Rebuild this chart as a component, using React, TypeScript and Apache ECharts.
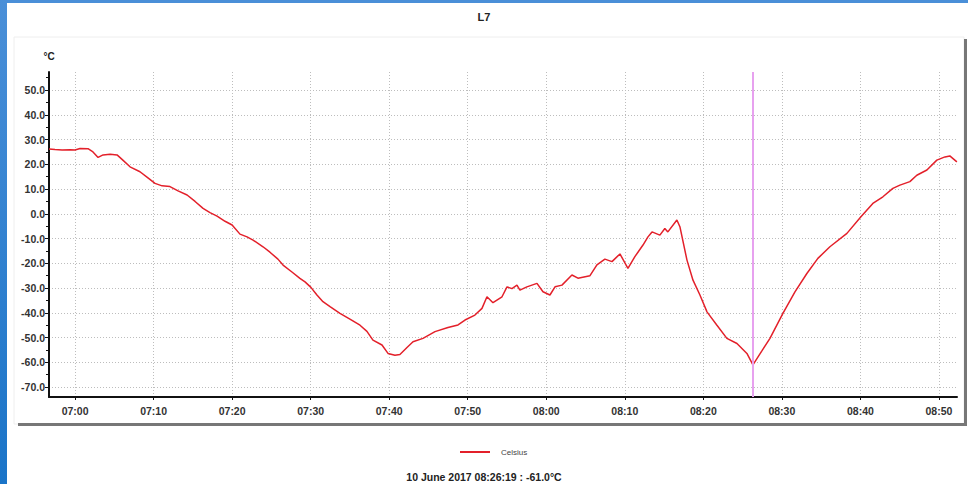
import React, { useEffect, useRef } from 'react';
import * as echarts from 'echarts';

const chartTitle = 'L7';
const seriesName = 'Celsius';
const dateLabel = '10 June 2017';
const cursorTime = '08:26:19';
const cursorValue = -61.0;
const axisStart = '06:56:41';
const axisEnd = '08:52:18';
const yMin = -74;
const yMax = 57.3;

const xTickLabels = ['07:00', '07:10', '07:20', '07:30', '07:40', '07:50', '08:00', '08:10', '08:20', '08:30', '08:40', '08:50'];
const yTickValues = [-70, -60, -50, -40, -30, -20, -10, 0, 10, 20, 30, 40, 50];
const yMinorTickValues = [-70, -65, -60, -55, -50, -45, -40, -35, -30, -25, -20, -15, -10, -5, 0, 5, 10, 15, 20, 25, 30, 35, 40, 45, 50, 55];

const times = [
  '06:56:41', '06:57:27', '06:58:21', '06:59:22', '07:00:00', '07:00:38', '07:01:39', '07:02:17', '07:02:56', '07:03:34',
  '07:04:28', '07:05:21', '07:05:59', '07:07:00', '07:08:16', '07:09:17', '07:10:11', '07:11:05', '07:12:05', '07:13:07',
  '07:14:16', '07:15:17', '07:16:18', '07:17:11', '07:18:05', '07:19:06', '07:20:00', '07:21:00', '07:21:54', '07:22:40',
  '07:23:56', '07:24:49', '07:25:50', '07:26:29', '07:27:37', '07:28:38', '07:29:17', '07:30:02', '07:30:48', '07:31:34',
  '07:32:28', '07:33:44', '07:35:00', '07:36:17', '07:37:10', '07:37:56', '07:39:05', '07:39:51', '07:40:44', '07:41:22',
  '07:42:16', '07:43:02', '07:44:18', '07:45:50', '07:47:29', '07:48:46', '07:49:39', '07:50:55', '07:51:49', '07:52:27',
  '07:53:13', '07:54:22', '07:55:00', '07:55:38', '07:56:16', '07:56:39', '07:57:32', '07:58:49', '07:59:35', '08:00:28',
  '08:01:07', '08:02:00', '08:03:16', '08:04:02', '08:05:34', '08:06:27', '08:07:28', '08:08:22', '08:09:23', '08:10:24',
  '08:11:17', '08:12:19', '08:12:57', '08:13:28', '08:14:28', '08:15:06', '08:15:29', '08:16:38', '08:17:01', '08:17:55',
  '08:18:41', '08:19:34', '08:20:28', '08:21:44', '08:23:00', '08:24:17', '08:25:33', '08:26:19', '08:27:26', '08:28:29',
  '08:30:08', '08:31:40', '08:33:11', '08:34:35', '08:36:07', '08:38:17', '08:40:04', '08:41:35', '08:42:52', '08:44:08',
  '08:45:02', '08:46:18', '08:47:11', '08:48:28', '08:49:44', '08:50:46', '08:51:23', '08:52:17'
];

const celsius = [
  26.2, 26.0, 25.8, 25.9, 25.8, 26.4, 26.3, 25.0, 22.8, 23.8,
  24.1, 23.8, 22.0, 19.0, 17.0, 14.5, 12.3, 11.3, 11.0, 9.3,
  7.6, 5.0, 2.2, 0.5, -0.9, -3.0, -4.5, -8.2, -9.3, -10.6,
  -13.3, -15.5, -18.3, -20.7, -23.5, -26.1, -27.5, -29.7, -32.8, -35.5,
  -37.5, -40.2, -42.5, -45.0, -47.5, -51.0, -53.0, -56.4, -57.1, -56.8,
  -54.0, -51.7, -50.3, -47.6, -45.9, -44.9, -42.9, -40.9, -38.2, -33.5,
  -35.9, -33.5, -29.5, -30.2, -28.8, -30.8, -29.5, -28.1, -31.5, -32.8,
  -29.5, -28.8, -24.7, -26.0, -25.0, -20.6, -18.3, -19.3, -16.2, -22.0,
  -17.3, -12.6, -9.3, -7.3, -8.6, -5.9, -7.3, -2.5, -5.2, -18.7,
  -26.8, -32.8, -39.6, -45.0, -50.3, -52.4, -56.4, -61.0, -55.5, -50.3,
  -40.2, -31.5, -24.1, -18.0, -13.3, -7.9, -1.2, 4.2, 6.9, 10.3,
  11.6, 13.0, 15.6, 17.7, 21.7, 23.0, 23.4, 21.0
];

function toMinutes(t: string): number {
  const parts = t.split(':').map(Number);
  const h = parts[0];
  const m = parts[1];
  const s = parts.length > 2 ? parts[2] : 0;
  return (h - 7) * 60 + m + s / 60;
}

function formatHM(v: number): string {
  const total = 7 * 60 + Math.round(v);
  const h = Math.floor(total / 60);
  const m = total % 60;
  return String(h).padStart(2, '0') + ':' + String(m).padStart(2, '0');
}

const FONT = 'Liberation Sans, Arial, sans-serif';

export default function App() {
  const ref = useRef<HTMLDivElement>(null);

  useEffect(() => {
    if (!ref.current) return;
    const chart = echarts.init(ref.current, null, { renderer: 'svg' });
    const data = times.map((t, i) => [toMinutes(t), celsius[i]]);
    const xTicks = xTickLabels.map(toMinutes);

    chart.setOption({
      animation: false,
      backgroundColor: '#ffffff',
      title: {
        text: chartTitle,
        left: 'center',
        top: 6,
        textStyle: { fontSize: 11, fontWeight: 'bold', color: '#222', fontFamily: FONT },
      },
      legend: {
        data: [seriesName],
        left: 455,
        top: 443,
        icon: 'rect',
        itemWidth: 30,
        itemHeight: 2,
        textStyle: { fontSize: 8, color: '#444', fontFamily: FONT, padding: [0, 0, 0, 6] },
      },
      grid: { left: 49, right: 11, top: 72, bottom: 87 },
      xAxis: {
        type: 'value',
        min: toMinutes(axisStart),
        max: toMinutes(axisEnd),
        axisLine: { show: true, onZero: false, lineStyle: { color: '#111', width: 2 } },
        axisTick: { show: true, length: 3, customValues: xTicks, lineStyle: { color: '#111', width: 1 } },
        axisLabel: {
          customValues: xTicks,
          formatter: (v: number) => formatHM(v),
          fontSize: 10.5,
          fontWeight: 'bold',
          color: '#333',
          fontFamily: FONT,
          margin: 8,
        },
        splitLine: { show: true, lineStyle: { color: '#bdbdbd', width: 1, type: [1, 2] } },
      },
      yAxis: [
        {
          type: 'value',
          min: yMin,
          max: yMax,
          name: '°C',
          nameLocation: 'end',
          nameGap: 11,
          nameTextStyle: { fontSize: 10, fontWeight: 'bold', color: '#222', fontFamily: FONT },
          axisLine: { show: true, onZero: false, lineStyle: { color: '#111', width: 2 } },
          axisTick: { show: true, length: 4, customValues: yTickValues, lineStyle: { color: '#111', width: 1 } },
          axisLabel: {
            customValues: yTickValues,
            formatter: (v: number) => v.toFixed(1),
            fontSize: 10.5,
            fontWeight: 'bold',
            color: '#333',
            fontFamily: FONT,
            margin: 4,
          },
          splitLine: { show: true, lineStyle: { color: '#bdbdbd', width: 1, type: [1, 2] } },
        },
        {
          type: 'value',
          min: yMin,
          max: yMax,
          position: 'left',
          offset: 0,
          axisLine: { show: false, onZero: false },
          axisTick: { show: true, length: 3, customValues: yMinorTickValues, lineStyle: { color: '#111', width: 1 } },
          axisLabel: { show: false },
          splitLine: { show: false },
        },
      ],
      series: [
        {
          type: 'line',
          name: seriesName,
          data,
          symbol: 'none',
          lineStyle: { color: '#e3202a', width: 1.5 },
          itemStyle: { color: '#e3202a' },
          markLine: {
            silent: true,
            symbol: 'none',
            label: { show: false },
            lineStyle: { color: '#e7a1ef', width: 2, type: 'solid' },
            data: [{ xAxis: toMinutes(cursorTime) }],
          },
        },
      ],
      graphic: [
        {
          type: 'rect',
          shape: { x: 0, y: 0, width: 968, height: 3 },
          style: { fill: '#4a8fd8' },
        },
        {
          type: 'rect',
          shape: { x: 0, y: 0, width: 7, height: 484 },
          style: {
            fill: new echarts.graphic.LinearGradient(0, 0, 0, 1, [
              { offset: 0, color: '#4a8fd8' },
              { offset: 1, color: '#1a74c8' },
            ]),
          },
        },
        {
          type: 'rect',
          shape: { x: 14, y: 37, width: 950, height: 387 },
          style: { fill: 'none', stroke: '#eeeeee', lineWidth: 1 },
        },
        {
          type: 'rect',
          shape: { x: 964, y: 39, width: 3, height: 387 },
          style: { fill: '#777777' },
        },
        {
          type: 'rect',
          shape: { x: 18, y: 423, width: 949, height: 3 },
          style: { fill: '#777777' },
        },
        {
          type: 'text',
          left: 'center',
          top: 471,
          style: {
            text: dateLabel + ' ' + cursorTime + ' : ' + cursorValue.toFixed(1) + '°C',
            font: 'bold 10.5px ' + FONT,
            fill: '#222',
          },
        },
      ],
    });

    return () => chart.dispose();
  }, []);

  return (
    <div
      ref={ref}
      style={{ position: 'fixed', left: 0, top: 0, width: 968, height: 484 }}
    />
  );
}
